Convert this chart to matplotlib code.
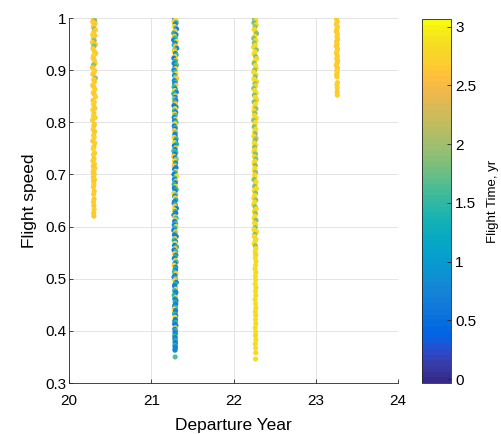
import numpy as np
import matplotlib
matplotlib.use("Agg")
import matplotlib.pyplot as plt
from matplotlib.colors import ListedColormap, Normalize

plt.rcParams['font.family'] = ['Liberation Sans', 'DejaVu Sans']

# === Launch window 1 (2020) ===
dep_w1 = [
    20.298, 20.312, 20.289, 20.318, 20.303, 20.294, 20.309, 20.321, 20.300, 20.287,
    20.315, 20.296, 20.306, 20.284, 20.319, 20.302, 20.291, 20.311, 20.324, 20.299,
    20.293, 20.308, 20.317, 20.297, 20.286, 20.313, 20.304, 20.290, 20.320, 20.301,
    20.310, 20.288, 20.300, 20.316, 20.295, 20.305, 20.322, 20.292, 20.307, 20.298,
    20.314, 20.290, 20.303, 20.297, 20.318, 20.286, 20.309, 20.301, 20.293, 20.312,
    20.299, 20.306, 20.289, 20.315, 20.302, 20.294, 20.311, 20.297, 20.304, 20.290,
    20.308, 20.296, 20.313, 20.300, 20.292, 20.306, 20.301, 20.295, 20.310, 20.299,
    20.303, 20.297, 20.306, 20.300, 20.304, 20.298, 20.302, 20.305, 20.299, 20.303,
]
speed_w1 = [
    0.999, 0.995, 0.993, 0.989, 0.986, 0.983, 0.979, 0.977, 0.972, 0.968,
    0.966, 0.961, 0.957, 0.953, 0.949, 0.946, 0.941, 0.935, 0.932, 0.928,
    0.923, 0.919, 0.913, 0.910, 0.905, 0.899, 0.896, 0.892, 0.885, 0.882,
    0.878, 0.871, 0.868, 0.863, 0.857, 0.854, 0.849, 0.842, 0.839, 0.834,
    0.827, 0.824, 0.817, 0.812, 0.809, 0.804, 0.796, 0.793, 0.786, 0.782,
    0.775, 0.771, 0.764, 0.760, 0.753, 0.749, 0.741, 0.738, 0.730, 0.726,
    0.720, 0.716, 0.712, 0.709, 0.704, 0.701, 0.697, 0.694, 0.690, 0.687,
    0.681, 0.676, 0.668, 0.662, 0.653, 0.647, 0.640, 0.633, 0.626, 0.620,
]
tof_w1 = [
    2.70, 1.85, 2.65, 2.75, 2.62, 2.68, 1.90, 2.72, 2.66, 2.80,
    2.64, 2.71, 1.95, 2.69, 2.60, 1.88, 2.74, 2.67, 2.63, 2.78,
    2.70, 2.66, 2.73, 1.92, 2.61, 2.68, 2.75, 2.64, 2.02, 2.70,
    2.67, 2.72, 2.63, 2.69, 2.76, 2.65, 2.71, 2.62, 2.68, 2.74,
    2.66, 2.70, 2.63, 2.80, 2.69, 2.72, 2.64, 2.67, 2.73, 2.61,
    2.68, 2.75, 2.65, 2.70, 2.62, 2.82, 2.66, 2.71, 2.64, 2.69,
    2.72, 2.67, 2.63, 2.74, 2.68, 2.65, 2.70, 2.66, 2.73, 2.62,
    2.69, 2.71, 2.64, 2.68, 2.66, 2.72, 2.63, 2.70, 2.67, 2.65,
]

# === Launch window 2 (2021) ===
dep_w2 = [
    21.285, 21.298, 21.276, 21.303, 21.290, 21.281, 21.295, 21.307, 21.287, 21.273,
    21.300, 21.283, 21.292, 21.271, 21.305, 21.288, 21.278, 21.297, 21.309, 21.286,
    21.279, 21.294, 21.302, 21.284, 21.274, 21.299, 21.291, 21.277, 21.306, 21.289,
    21.296, 21.275, 21.287, 21.301, 21.282, 21.292, 21.308, 21.280, 21.294, 21.285,
    21.299, 21.277, 21.290, 21.284, 21.304, 21.273, 21.295, 21.288, 21.280, 21.298,
    21.286, 21.293, 21.276, 21.301, 21.289, 21.281, 21.297, 21.284, 21.291, 21.278,
    21.294, 21.283, 21.300, 21.287, 21.279, 21.292, 21.288, 21.282, 21.296, 21.286,
    21.289, 21.277, 21.302, 21.293, 21.284, 21.306, 21.280, 21.296, 21.287, 21.274,
    21.298, 21.285, 21.272, 21.291, 21.304, 21.282, 21.295, 21.288, 21.279, 21.301,
    21.283, 21.297, 21.290, 21.276, 21.307, 21.286, 21.281, 21.299, 21.292, 21.278,
    21.295, 21.280, 21.303, 21.288, 21.274, 21.296, 21.285, 21.291, 21.300, 21.283,
    21.277, 21.293, 21.286, 21.305, 21.282, 21.290, 21.298, 21.275, 21.288, 21.302,
    21.291, 21.284, 21.297, 21.279, 21.300, 21.287, 21.273, 21.294, 21.289, 21.281,
    21.303, 21.286, 21.278, 21.295, 21.290, 21.283, 21.306, 21.288, 21.276, 21.297,
    21.284, 21.299, 21.291, 21.280, 21.294, 21.302, 21.287, 21.277, 21.296, 21.289,
    21.293, 21.281, 21.300, 21.288, 21.276, 21.295, 21.285, 21.304, 21.290, 21.283,
    21.287, 21.296, 21.282, 21.299, 21.291, 21.279, 21.294, 21.286, 21.301, 21.290,
    21.298, 21.284, 21.292, 21.280, 21.295, 21.289, 21.283, 21.297, 21.288, 21.293,
    21.286, 21.294, 21.283, 21.299, 21.290, 21.285, 21.296, 21.288, 21.292, 21.284,
    21.291, 21.287, 21.295, 21.289, 21.293, 21.286, 21.292, 21.290, 21.288, 21.290,
]
speed_w2 = [
    0.999, 0.997, 0.993, 0.991, 0.988, 0.984, 0.981, 0.979, 0.975, 0.971,
    0.968, 0.965, 0.962, 0.958, 0.955, 0.952, 0.948, 0.946, 0.942, 0.939,
    0.936, 0.932, 0.929, 0.926, 0.923, 0.919, 0.917, 0.913, 0.910, 0.906,
    0.903, 0.900, 0.897, 0.893, 0.890, 0.887, 0.884, 0.880, 0.877, 0.874,
    0.871, 0.868, 0.864, 0.861, 0.858, 0.855, 0.851, 0.848, 0.845, 0.842,
    0.839, 0.835, 0.832, 0.829, 0.826, 0.822, 0.819, 0.816, 0.813, 0.809,
    0.806, 0.803, 0.800, 0.797, 0.793, 0.790, 0.787, 0.784, 0.780, 0.777,
    0.774, 0.771, 0.768, 0.764, 0.761, 0.758, 0.755, 0.751, 0.748, 0.745,
    0.742, 0.739, 0.735, 0.732, 0.729, 0.726, 0.722, 0.719, 0.716, 0.713,
    0.710, 0.706, 0.703, 0.700, 0.697, 0.693, 0.690, 0.687, 0.684, 0.681,
    0.677, 0.674, 0.671, 0.668, 0.664, 0.661, 0.658, 0.655, 0.651, 0.648,
    0.645, 0.642, 0.639, 0.635, 0.632, 0.629, 0.626, 0.622, 0.619, 0.616,
    0.613, 0.610, 0.606, 0.603, 0.600, 0.597, 0.593, 0.590, 0.587, 0.584,
    0.581, 0.577, 0.574, 0.571, 0.568, 0.564, 0.561, 0.558, 0.555, 0.552,
    0.548, 0.545, 0.542, 0.539, 0.535, 0.532, 0.529, 0.526, 0.522, 0.519,
    0.516, 0.513, 0.510, 0.506, 0.503, 0.500, 0.497, 0.493, 0.490, 0.487,
    0.484, 0.480, 0.477, 0.474, 0.471, 0.468, 0.464, 0.461, 0.458, 0.455,
    0.452, 0.448, 0.445, 0.442, 0.439, 0.435, 0.432, 0.429, 0.426, 0.422,
    0.419, 0.416, 0.413, 0.410, 0.406, 0.403, 0.400, 0.397, 0.394, 0.390,
    0.387, 0.384, 0.381, 0.378, 0.375, 0.372, 0.369, 0.366, 0.363, 0.350,
]
tof_w2 = [
    0.78, 2.83, 2.63, 1.52, 0.70, 2.80, 1.95, 0.74, 2.66, 1.45,
    0.69, 2.70, 1.58, 0.81, 2.84, 0.72, 1.49, 2.61, 0.76, 1.90,
    2.67, 0.73, 1.55, 2.81, 0.68, 2.64, 1.42, 0.79, 1.62, 0.71,
    2.72, 0.75, 1.51, 2.84, 0.70, 1.88, 2.62, 0.77, 1.47, 0.66,
    2.68, 1.56, 0.74, 2.82, 0.80, 1.50, 2.65, 0.71, 1.93, 0.73,
    1.53, 2.63, 0.69, 0.78, 2.85, 1.46, 0.72, 2.70, 1.59, 0.75,
    2.66, 0.70, 1.54, 2.80, 0.76, 1.48, 0.68, 2.61, 1.97, 0.74,
    0.79, 2.69, 1.52, 0.71, 2.83, 1.44, 0.77, 2.64, 0.73, 1.57,
    1.50, 0.72, 2.67, 0.75, 1.91, 2.81, 0.69, 1.55, 2.62, 0.78,
    0.74, 2.71, 1.49, 0.70, 2.84, 1.60, 0.76, 2.65, 0.73, 1.45,
    2.63, 0.77, 1.53, 0.71, 2.80, 1.86, 0.75, 2.68, 1.51, 0.72,
    0.80, 1.47, 2.66, 0.69, 2.83, 1.56, 0.74, 0.78, 2.62, 1.50,
    2.70, 0.73, 1.58, 0.76, 2.79, 1.43, 0.71, 2.64, 1.94, 0.75,
    0.72, 2.67, 1.52, 0.79, 2.84, 0.70, 1.48, 2.61, 0.74, 1.55,
    2.65, 0.77, 1.46, 0.73, 2.82, 1.59, 0.69, 2.69, 0.76, 1.51,
    0.74, 1.54, 2.63, 0.71, 0.78, 1.89, 2.66, 0.72, 1.49, 0.75,
    0.70, 2.68, 1.57, 0.77, 0.73, 1.45, 2.62, 0.76, 0.71, 1.53,
    0.79, 0.72, 1.50, 2.64, 0.75, 0.70, 1.56, 0.74, 2.83, 0.77,
    0.73, 1.48, 0.76, 0.71, 2.67, 0.78, 1.52, 0.72, 0.75, 1.47,
    0.74, 0.77, 1.55, 0.70, 0.73, 1.50, 0.76, 0.72, 0.75, 1.68,
]

# === Launch window 3 (2022) ===
dep_w3 = [
    22.255, 22.270, 22.248, 22.276, 22.261, 22.251, 22.267, 22.279, 22.258, 22.245,
    22.273, 22.253, 22.264, 22.243, 22.277, 22.260, 22.249, 22.269, 22.281, 22.257,
    22.250, 22.266, 22.275, 22.255, 22.244, 22.271, 22.262, 22.248, 22.278, 22.259,
    22.268, 22.246, 22.258, 22.274, 22.253, 22.263, 22.280, 22.250, 22.265, 22.256,
    22.272, 22.248, 22.261, 22.255, 22.276, 22.244, 22.267, 22.259, 22.251, 22.270,
    22.257, 22.264, 22.247, 22.273, 22.260, 22.252, 22.269, 22.255, 22.262, 22.249,
    22.266, 22.254, 22.271, 22.258, 22.250, 22.264, 22.260, 22.253, 22.268, 22.257,
    22.261, 22.249, 22.274, 22.265, 22.256, 22.278, 22.252, 22.268, 22.259, 22.246,
    22.270, 22.257, 22.244, 22.263, 22.276, 22.254, 22.267, 22.260, 22.251, 22.273,
    22.255, 22.269, 22.262, 22.248, 22.279, 22.258, 22.253, 22.271, 22.264, 22.250,
    22.266, 22.272, 22.262, 22.270, 22.264, 22.274, 22.267, 22.261, 22.271, 22.265,
    22.269, 22.263, 22.273, 22.266, 22.270, 22.262, 22.268, 22.272, 22.264, 22.269,
    22.267, 22.271, 22.263, 22.269, 22.266, 22.272, 22.264, 22.268, 22.270, 22.267,
]
speed_w3 = [
    0.998, 0.995, 0.991, 0.987, 0.983, 0.978, 0.974, 0.970, 0.965, 0.961,
    0.957, 0.952, 0.948, 0.944, 0.939, 0.935, 0.931, 0.926, 0.922, 0.917,
    0.913, 0.909, 0.904, 0.900, 0.896, 0.891, 0.887, 0.883, 0.878, 0.874,
    0.870, 0.865, 0.861, 0.856, 0.852, 0.848, 0.843, 0.839, 0.835, 0.830,
    0.826, 0.822, 0.817, 0.813, 0.808, 0.804, 0.800, 0.795, 0.791, 0.787,
    0.782, 0.778, 0.773, 0.769, 0.765, 0.760, 0.756, 0.752, 0.747, 0.743,
    0.739, 0.734, 0.730, 0.725, 0.721, 0.717, 0.712, 0.708, 0.704, 0.699,
    0.695, 0.690, 0.686, 0.682, 0.677, 0.673, 0.669, 0.664, 0.660, 0.655,
    0.651, 0.647, 0.642, 0.638, 0.634, 0.629, 0.625, 0.620, 0.616, 0.612,
    0.607, 0.603, 0.598, 0.594, 0.590, 0.585, 0.581, 0.576, 0.572, 0.567,
    0.563, 0.558, 0.552, 0.546, 0.540, 0.533, 0.526, 0.519, 0.512, 0.505,
    0.498, 0.490, 0.483, 0.476, 0.468, 0.460, 0.452, 0.444, 0.437, 0.430,
    0.422, 0.414, 0.406, 0.398, 0.391, 0.383, 0.375, 0.367, 0.358, 0.346,
]
tof_w3 = [
    1.92, 2.83, 1.85, 2.86, 1.97, 2.81, 2.72, 1.88, 2.87, 1.94,
    2.84, 1.90, 2.80, 2.85, 1.86, 2.88, 2.82, 1.95, 2.79, 2.86,
    1.89, 2.84, 2.81, 1.93, 2.87, 2.83, 1.87, 2.85, 2.78, 1.96,
    2.82, 1.91, 2.86, 2.80, 1.84, 2.84, 2.70, 1.90, 2.87, 2.81,
    1.95, 2.85, 1.88, 2.82, 2.79, 1.92, 2.86, 2.83, 1.86, 2.84,
    2.80, 1.94, 2.87, 2.30, 1.89, 2.84, 2.81, 1.91, 2.85, 2.72,
    1.87, 2.83, 1.93, 2.86, 2.82, 1.90, 2.79, 2.85, 1.96, 2.81,
    2.87, 1.88, 2.83, 2.80, 1.94, 2.84, 2.86, 1.85, 2.82, 2.85,
    1.91, 2.81, 2.87, 1.89, 2.83, 2.80, 1.93, 2.85, 2.84, 1.90,
    2.82, 2.86, 1.92, 2.83, 2.79, 1.87, 2.85, 2.81, 2.87, 2.84,
    1.95, 2.82, 2.85, 2.70, 2.83, 2.80, 2.86, 2.84, 2.81, 2.85,
    2.83, 2.87, 2.82, 2.84, 2.80, 2.85, 2.83, 2.81, 2.86, 2.82,
    2.84, 2.81, 2.85, 2.83, 2.80, 2.86, 2.82, 2.84, 2.81, 2.83,
]

# === Launch window 4 (2023) ===
dep_w4 = [
    23.252, 23.260, 23.248, 23.263, 23.255, 23.250, 23.262, 23.257, 23.265, 23.253,
    23.259, 23.249, 23.264, 23.256, 23.251, 23.261, 23.254, 23.266, 23.258, 23.250,
    23.262, 23.256, 23.260, 23.253, 23.258, 23.263, 23.257, 23.260, 23.259, 23.261,
]
speed_w4 = [
    0.998, 0.993, 0.988, 0.983, 0.979, 0.974, 0.969, 0.964, 0.959, 0.955,
    0.950, 0.946, 0.941, 0.936, 0.932, 0.927, 0.922, 0.918, 0.914, 0.909,
    0.904, 0.899, 0.896, 0.891, 0.887, 0.876, 0.872, 0.866, 0.858, 0.852,
]
tof_w4 = [
    2.70, 2.66, 2.73, 2.68, 2.75, 2.64, 2.71, 2.69, 2.72, 2.67,
    2.74, 2.65, 2.70, 2.68, 2.73, 2.66, 2.71, 2.69, 2.64, 2.72,
    2.67, 2.70, 2.73, 2.66, 2.71, 2.68, 2.74, 2.69, 2.65, 2.70,
]

x_ticks = [20, 21, 22, 23, 24]
y_ticks = [0.3, 0.4, 0.5, 0.6, 0.7, 0.8, 0.9, 1.0]
y_ticklabels = ["0.3", "0.4", "0.5", "0.6", "0.7", "0.8", "0.9", "1"]
cb_ticks = [0, 0.5, 1, 1.5, 2, 2.5, 3]
cb_ticklabels = ["0", "0.5", "1", "1.5", "2", "2.5", "3"]
tof_limits = (-0.034, 3.064)

# MATLAB parula (64 entries)
parula_data = [
    [0.2081, 0.1663, 0.5292], [0.2116, 0.1898, 0.5777], [0.2123, 0.2138, 0.6270],
    [0.2081, 0.2386, 0.6771], [0.1959, 0.2645, 0.7279], [0.1707, 0.2919, 0.7792],
    [0.1253, 0.3242, 0.8303], [0.0591, 0.3598, 0.8683], [0.0117, 0.3875, 0.8820],
    [0.0060, 0.4086, 0.8828], [0.0165, 0.4266, 0.8786], [0.0329, 0.4430, 0.8720],
    [0.0498, 0.4586, 0.8641], [0.0629, 0.4737, 0.8554], [0.0723, 0.4887, 0.8467],
    [0.0779, 0.5040, 0.8384], [0.0793, 0.5200, 0.8312], [0.0749, 0.5375, 0.8263],
    [0.0641, 0.5570, 0.8240], [0.0488, 0.5772, 0.8228], [0.0343, 0.5966, 0.8199],
    [0.0265, 0.6137, 0.8135], [0.0239, 0.6287, 0.8038], [0.0231, 0.6418, 0.7913],
    [0.0228, 0.6535, 0.7768], [0.0267, 0.6642, 0.7607], [0.0384, 0.6743, 0.7436],
    [0.0590, 0.6838, 0.7254], [0.0843, 0.6928, 0.7062], [0.1133, 0.7015, 0.6859],
    [0.1453, 0.7098, 0.6646], [0.1801, 0.7177, 0.6424], [0.2178, 0.7250, 0.6193],
    [0.2586, 0.7317, 0.5954], [0.3022, 0.7376, 0.5712], [0.3482, 0.7424, 0.5473],
    [0.3953, 0.7459, 0.5244], [0.4420, 0.7481, 0.5033], [0.4871, 0.7491, 0.4840],
    [0.5300, 0.7491, 0.4661], [0.5709, 0.7485, 0.4494], [0.6099, 0.7473, 0.4337],
    [0.6473, 0.7456, 0.4188], [0.6834, 0.7435, 0.4044], [0.7184, 0.7411, 0.3905],
    [0.7525, 0.7384, 0.3768], [0.7858, 0.7356, 0.3633], [0.8185, 0.7327, 0.3498],
    [0.8507, 0.7299, 0.3360], [0.8824, 0.7274, 0.3217], [0.9139, 0.7258, 0.3063],
    [0.9450, 0.7261, 0.2886], [0.9739, 0.7314, 0.2666], [0.9938, 0.7455, 0.2403],
    [0.9990, 0.7653, 0.2164], [0.9955, 0.7861, 0.1967], [0.9880, 0.8066, 0.1794],
    [0.9789, 0.8271, 0.1633], [0.9697, 0.8481, 0.1475], [0.9626, 0.8705, 0.1309],
    [0.9589, 0.8949, 0.1132], [0.9598, 0.9218, 0.0948], [0.9661, 0.9514, 0.0755],
    [0.9763, 0.9831, 0.0538],
]
parula = ListedColormap(parula_data, name="parula")
norm = Normalize(vmin=tof_limits[0], vmax=tof_limits[1])

dep = np.concatenate([dep_w1, dep_w2, dep_w3, dep_w4])
speed = np.concatenate([speed_w1, speed_w2, speed_w3, speed_w4])
tof = np.concatenate([tof_w1, tof_w2, tof_w3, tof_w4])

fig = plt.figure(figsize=(5.02, 4.34), dpi=100)
ax = fig.add_axes([0.1375, 0.1175, 0.6555, 0.841])
cax = fig.add_axes([0.8406, 0.1175, 0.0578, 0.8387])

sc = ax.scatter(dep, speed, c=tof, cmap=parula, norm=norm, s=14, linewidths=0)

axis_gray = '#262626'
ax.set_xlim(20, 24)
ax.set_ylim(0.3, 1.0)
ax.set_xticks(x_ticks)
ax.set_yticks(y_ticks)
ax.set_yticklabels(y_ticklabels)
ax.grid(True, color='#dfdfdf', linewidth=0.6)
ax.set_axisbelow(True)
for side in ['top', 'right']:
    ax.spines[side].set_visible(False)
for side in ['left', 'bottom']:
    ax.spines[side].set_color(axis_gray)
    ax.spines[side].set_linewidth(0.6)
ax.tick_params(direction='in', length=3, width=0.6, color=axis_gray,
               labelsize=11, labelcolor='black')
ax.tick_params(axis='y', pad=2)
ax.tick_params(axis='x', pad=8)
ax.set_xlabel("Departure Year", fontsize=12.5, labelpad=7)
ax.set_ylabel("Flight speed", fontsize=12.5, labelpad=6)

cb = fig.colorbar(sc, cax=cax)
cb.set_ticks(cb_ticks)
cb.set_ticklabels(cb_ticklabels)
cb.outline.set_edgecolor(axis_gray)
cb.outline.set_linewidth(0.6)
cax.tick_params(direction='in', length=3, width=0.6, color=axis_gray,
                labelsize=11, pad=3)
cb.set_label("Flight Time, yr", fontsize=9.5, labelpad=8)

fig.savefig("out.png", dpi=100)
